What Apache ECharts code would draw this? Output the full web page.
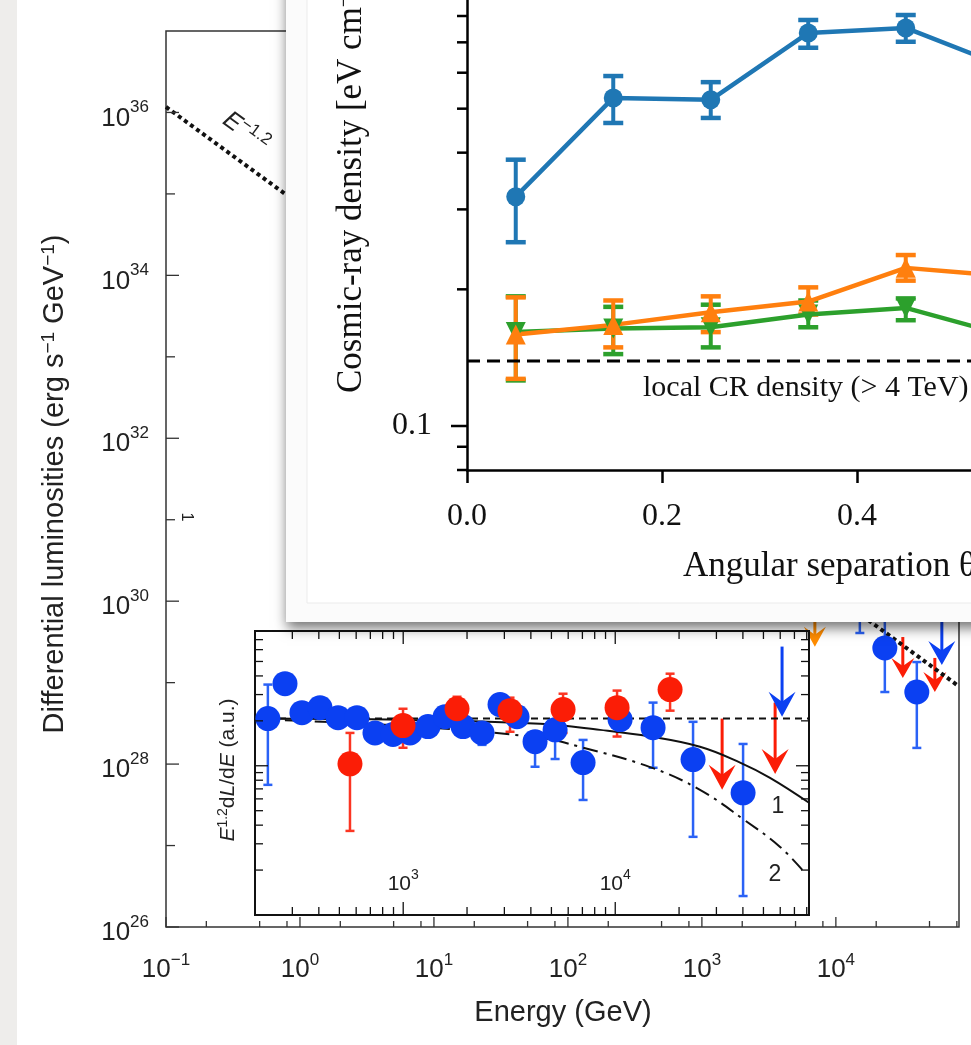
<!DOCTYPE html>
<html>
<head>
<meta charset="utf-8">
<title>Differential luminosities with cosmic-ray density panel</title>
<script src="https://cdn.jsdelivr.net/npm/echarts@6.0.0/dist/echarts.min.js"></script>
<style>
  html, body { margin: 0; padding: 0; background: #fff; }
  #chart { width: 971px; height: 1045px; }
</style>
</head>
<body>
<div id="chart"></div>
<script>
const SANS = '"Liberation Sans", Arial, Helvetica, sans-serif';
const SERIF = '"Liberation Serif", "Times New Roman", serif';

// ---- main figure (log-log) ----
const mainXRange = [0.1, 83000];
const mainYRange = [1e26, 1e37];
const mainXMajor = [0.1, 1, 10, 100, 1000, 10000];
const mainXMinor = [0.2, 0.5, 0.8, 2, 5, 8, 20, 50, 80, 200, 500, 800, 2000, 5000, 8000, 20000, 50000, 80000];
const mainYLabelled = [1e26, 1e28, 1e30, 1e32, 1e34, 1e36];
const mainYOdd = [1e27, 1e29, 1e31, 1e33, 1e35];
const slopeE = [0.1, 80000];
const slopeL = [1.17e36, 9.4e28];
const mainBlueE = [15100, 23200, 40200];
const mainBlueL = [1.0e30, 2.66e29, 7.67e28];
const mainBlueLo = [4.07e29, 7.67e28, 1.58e28];
const mainBlueHi = [1.6e30, 7.8e29, 1.79e29];
const mainBlueLimE = [61800];
const mainBlueLimFrom = [1.0e30];
const mainBlueLimTo = [1.65e29];
const mainRedLimE = [31600, 54800];
const mainRedLimFrom = [3.63e29, 2.01e29];
const mainRedLimTo = [1.14e29, 7.67e28];
const mainOrangeLimE = [6970];
const mainOrangeLimFrom = [1.0e30];
const mainOrangeLimTo = [2.75e29];

// ---- inset (E^1.2 dL/dE) ----
const insetXRange = [200, 82000];
const insetYRange = [0.1, 8];
const insetXMajor = [1000, 10000];
const insetXMinor = [300, 400, 500, 600, 700, 800, 900, 2000, 3000, 4000, 5000, 6000, 7000, 8000, 9000,
  20000, 30000, 40000, 50000, 60000, 70000, 80000];
const insetYMajor = [1];
const insetYMinor = [0.2, 0.3, 0.4, 0.5, 0.6, 0.7, 0.8, 0.9, 2, 3, 4, 5, 6, 7, 8];
const insetBlueE = [230, 277, 333, 405, 493, 605, 736, 895, 1077, 1309, 1575, 1915, 2354, 2862, 3442,
  4186, 5204, 7052, 10540, 15080, 23280, 40080];
const insetBlueV = [2.07, 3.55, 2.27, 2.45, 2.10, 2.10, 1.66, 1.62, 1.66, 1.83, 2.13, 1.83, 1.66, 2.57, 2.13,
  1.45, 1.74, 1.05, 2.04, 1.80, 1.10, 0.659];
const insetBlueLo = [0.745, null, null, null, null, null, null, null, null, null, null, null, 1.38, null, null,
  0.985, 1.11, 0.59, null, 0.97, 0.334, 0.134];
const insetBlueHi = [3.50, null, null, null, null, null, null, null, null, null, null, null, 1.95, null, null,
  1.70, 1.90, 1.49, null, 2.65, 1.97, 1.40];
const insetRedE = [561, 998, 1794, 3190, 5674, 10200, 18140];
const insetRedV = [1.03, 1.86, 2.41, 2.34, 2.38, 2.45, 3.24];
const insetRedLo = [0.366, 1.32, 1.83, 1.69, 1.66, 1.57, 2.34];
const insetRedHi = [1.66, 2.41, 2.90, 2.86, 3.04, 3.19, 4.14];
const insetRedLimE = [31920, 56760];
const insetRedLimFrom = [2.07, 2.65];
const insetRedLimTo = [0.69, 0.88];
const insetBlueLimE = [61200];
const insetBlueLimFrom = [6.29];
const insetBlueLimTo = [2.13];
const flatE = [200, 82000];
const flatV = [2.07, 2.07];
const curve1E = [200, 1000, 4420, 8480, 14600, 25100, 38800, 53700, 82000];
const curve1V = [2.07, 2.03, 1.91, 1.74, 1.57, 1.34, 1.05, 0.83, 0.565];
const curve2E = [200, 1000, 4420, 6820, 14600, 25100, 40960, 59900, 78600];
const curve2V = [2.05, 1.85, 1.54, 1.34, 0.98, 0.69, 0.43, 0.286, 0.191];

// ---- overlay panel (cosmic-ray density vs angular separation) ----
const panelX = [0.05, 0.15, 0.25, 0.35, 0.45, 0.55];
const blueY = [0.320, 0.528, 0.523, 0.734, 0.753, 0.621];
const blueLo = [0.254, 0.465, 0.477, 0.681, 0.702, 0.580];
const blueHi = [0.386, 0.590, 0.572, 0.784, 0.804, 0.670];
const orangeY = [0.159, 0.167, 0.178, 0.188, 0.223, 0.214];
const orangeLo = [0.127, 0.149, 0.161, 0.176, 0.209, 0.200];
const orangeHi = [0.192, 0.189, 0.193, 0.202, 0.238, 0.230];
const greenY = [0.161, 0.164, 0.165, 0.176, 0.182, 0.159];
const greenLo = [0.126, 0.144, 0.149, 0.165, 0.171, 0.148];
const greenHi = [0.193, 0.183, 0.185, 0.189, 0.191, 0.170];
const localCR = 0.139;
const panelYMajor = [0.1];
const panelYMinor = [0.08, 0.09, 0.2, 0.3, 0.4, 0.5, 0.6, 0.7, 0.8, 0.9];

const zip = (...arrs) => arrs[0].map((_, i) => arrs.map(a => a[i]));
const withErr = rows => rows.filter(r => r[1] != null && r[2] != null);

function pow10(v) {
  const l = Math.log10(v), e = Math.round(l);
  if (Math.abs(l - e) > 1e-6) return '';
  return '{b|10}{s|' + (e < 0 ? '\u2212' + (-e) : e) + '}';
}

// tick rows: [x, y, side(0 bottom,1 top,2 left,3 right), length (+ in / - out)]
const xTicks = (vals, yRef, side, len) => vals.map(v => [v, yRef, side, len]);
const yTicks = (vals, xRef, side, len) => vals.map(v => [xRef, v, side, len]);

function tickRenderer(color, width) {
  return function (params, api) {
    const cs = params.coordSys;
    const p = api.coord([api.value(0), api.value(1)]);
    const side = api.value(2), len = api.value(3);
    let s;
    if (side === 0) s = { x1: p[0], y1: cs.y + cs.height, x2: p[0], y2: cs.y + cs.height - len };
    else if (side === 1) s = { x1: p[0], y1: cs.y, x2: p[0], y2: cs.y + len };
    else if (side === 2) s = { x1: cs.x, y1: p[1], x2: cs.x + len, y2: p[1] };
    else s = { x1: cs.x + cs.width, y1: p[1], x2: cs.x + cs.width - len, y2: p[1] };
    return { type: 'line', shape: s, style: { stroke: color, lineWidth: width } };
  };
}

function errRenderer(color, width, cap, capWidth) {
  return function (params, api) {
    const a = api.coord([api.value(0), api.value(1)]);
    const b = api.coord([api.value(0), api.value(2)]);
    const st = { stroke: color, lineWidth: width };
    const cst = { stroke: color, lineWidth: capWidth };
    return {
      type: 'group', children: [
        { type: 'line', shape: { x1: a[0], y1: a[1], x2: b[0], y2: b[1] }, style: st },
        { type: 'line', shape: { x1: a[0] - cap / 2, y1: a[1], x2: a[0] + cap / 2, y2: a[1] }, style: cst },
        { type: 'line', shape: { x1: b[0] - cap / 2, y1: b[1], x2: b[0] + cap / 2, y2: b[1] }, style: cst }
      ]
    };
  };
}

// upper limit arrows: [x, from, to]
function arrowRenderer(color, width, headW, headH) {
  return function (params, api) {
    const a = api.coord([api.value(0), api.value(1)]);
    const b = api.coord([api.value(0), api.value(2)]);
    return {
      type: 'group', children: [
        { type: 'line', shape: { x1: a[0], y1: a[1], x2: b[0], y2: b[1] - headH * 0.5 }, style: { stroke: color, lineWidth: width } },
        {
          type: 'polygon',
          shape: { points: [[b[0], b[1]], [b[0] - headW / 2, b[1] - headH], [b[0], b[1] - headH * 0.6], [b[0] + headW / 2, b[1] - headH]] },
          style: { fill: color }
        }
      ]
    };
  };
}

const C = {
  blue: '#0b40f2', blueBar: '#2a62f6', red: '#fb1d06', redBar: '#fb3522', orange: '#ff8c00',
  tabBlue: '#1f77b4', tabOrange: '#ff7f0e', tabGreen: '#2ca02c'
};

const supRich = (size, sup, pb, pt) => ({
  b: { fontFamily: SANS, fontSize: size, color: '#222', padding: [pt, 0, 0, 0] },
  s: { fontFamily: SANS, fontSize: sup, color: '#222', padding: [0, 0, pb, 0] }
});

const mainTicks = [].concat(
  xTicks(mainXMajor, mainYRange[0], 0, 10),
  xTicks(mainXMinor, mainYRange[0], 0, 6),
  yTicks(mainYLabelled, mainXRange[0], 2, 13),
  yTicks(mainYOdd, mainXRange[0], 2, 9)
);
const insetTicks = [].concat(
  xTicks(insetXMajor, insetYRange[0], 0, 13), xTicks(insetXMajor, insetYRange[0], 1, 13),
  xTicks(insetXMinor, insetYRange[0], 0, 8), xTicks(insetXMinor, insetYRange[0], 1, 8),
  yTicks(insetYMajor, insetXRange[0], 2, 13), yTicks(insetYMajor, insetXRange[0], 3, 13),
  yTicks(insetYMinor, insetXRange[0], 2, 8), yTicks(insetYMinor, insetXRange[0], 3, 8)
);
const panelTicks = [].concat(
  yTicks(panelYMajor, 0, 2, -16),
  yTicks(panelYMinor, 0, 2, -10)
);

const chart = echarts.init(document.getElementById('chart'));

chart.setOption({
  animation: false,
  backgroundColor: '#fff',
  grid: [
    { left: 166, top: 31, width: 793, height: 896, show: true, borderColor: '#333', borderWidth: 1.5,
      backgroundColor: 'transparent', containLabel: false, outerBoundsMode: 'none', z: 1 },
    { left: 255, top: 631, width: 554, height: 284, show: true, borderColor: '#111', borderWidth: 2,
      backgroundColor: '#fff', containLabel: false, outerBoundsMode: 'none', z: 5 },
    { left: 467, top: -28, width: 585, height: 498, show: false, containLabel: false, outerBoundsMode: 'none' }
  ],
  xAxis: [
    {
      type: 'log', gridIndex: 0, min: mainXRange[0], max: mainXRange[1], z: 3,
      axisLine: { show: false }, axisTick: { show: false }, splitLine: { show: false },
      axisLabel: { formatter: pow10, margin: 20, rich: supRich(26, 17, 10, 10) }
    },
    {
      type: 'log', gridIndex: 1, min: insetXRange[0], max: insetXRange[1], z: 8,
      axisLine: { show: false }, axisTick: { show: false }, splitLine: { show: false },
      axisLabel: { inside: true, formatter: pow10, margin: 20, rich: supRich(21, 14, 10, 8) }
    },
    {
      type: 'value', gridIndex: 2, min: 0, max: 0.6, interval: 0.2, z: 23,
      axisLine: { lineStyle: { color: '#000', width: 2.5 } },
      axisTick: { inside: false, length: 13, lineStyle: { color: '#000', width: 2.5 } },
      splitLine: { show: false },
      axisLabel: { fontFamily: SERIF, fontSize: 32, color: '#111', margin: 31, formatter: v => v.toFixed(1) }
    }
  ],
  yAxis: [
    {
      type: 'log', gridIndex: 0, min: mainYRange[0], max: mainYRange[1], interval: 2, z: 3,
      axisLine: { show: false }, axisTick: { show: false }, splitLine: { show: false },
      axisLabel: { customValues: mainYLabelled, formatter: pow10, margin: 17, rich: supRich(26, 17, 10, 12) }
    },
    {
      type: 'log', gridIndex: 1, min: insetYRange[0], max: insetYRange[1], z: 8,
      axisLine: { show: false }, axisTick: { show: false }, splitLine: { show: false }, axisLabel: { show: false }
    },
    {
      type: 'log', gridIndex: 2, min: 0.08, max: 1, z: 23,
      axisLine: { lineStyle: { color: '#000', width: 2.5 } },
      axisTick: { show: false }, splitLine: { show: false },
      axisLabel: {
        fontFamily: SERIF, fontSize: 32, color: '#111', margin: 35,
        formatter: v => (Math.abs(v - 0.1) < 1e-9 ? '0.1' : '')
      }
    }
  ],
  series: [
    // main figure
    { type: 'custom', xAxisIndex: 0, yAxisIndex: 0, renderItem: tickRenderer('#333', 1.3), data: mainTicks, encode: { x: 0, y: 1 }, z: 3, silent: true },
    { type: 'line', xAxisIndex: 0, yAxisIndex: 0, data: zip(slopeE, slopeL), symbol: 'none',
      lineStyle: { color: '#111', width: 4, type: [4, 3.5] }, z: 2 },
    { type: 'custom', xAxisIndex: 0, yAxisIndex: 0, renderItem: errRenderer(C.blueBar, 2.5, 9, 2.5),
      data: withErr(zip(mainBlueE, mainBlueLo, mainBlueHi)), encode: { x: 0, y: [1, 2] }, z: 2 },
    { type: 'scatter', xAxisIndex: 0, yAxisIndex: 0, data: zip(mainBlueE, mainBlueL), symbolSize: 25,
      itemStyle: { color: C.blue, opacity: 1 }, z: 2 },
    { type: 'custom', xAxisIndex: 0, yAxisIndex: 0, renderItem: arrowRenderer(C.red, 3, 23, 20),
      data: zip(mainRedLimE, mainRedLimFrom, mainRedLimTo), encode: { x: 0, y: [1, 2] }, z: 2 },
    { type: 'custom', xAxisIndex: 0, yAxisIndex: 0, renderItem: arrowRenderer(C.orange, 3, 22, 20),
      data: zip(mainOrangeLimE, mainOrangeLimFrom, mainOrangeLimTo), encode: { x: 0, y: [1, 2] }, z: 2 },
    { type: 'custom', xAxisIndex: 0, yAxisIndex: 0, renderItem: arrowRenderer(C.blue, 3, 27, 24),
      data: zip(mainBlueLimE, mainBlueLimFrom, mainBlueLimTo), encode: { x: 0, y: [1, 2] }, z: 2 },

    // inset
    { type: 'custom', xAxisIndex: 1, yAxisIndex: 1, renderItem: errRenderer(C.blueBar, 2.5, 9, 2.5),
      data: withErr(zip(insetBlueE, insetBlueLo, insetBlueHi)), encode: { x: 0, y: [1, 2] }, z: 7 },
    { type: 'scatter', xAxisIndex: 1, yAxisIndex: 1, data: zip(insetBlueE, insetBlueV), symbolSize: 25,
      itemStyle: { color: C.blue, opacity: 1 }, z: 7 },
    { type: 'custom', xAxisIndex: 1, yAxisIndex: 1, renderItem: errRenderer(C.redBar, 2.5, 9, 2.5),
      data: withErr(zip(insetRedE, insetRedLo, insetRedHi)), encode: { x: 0, y: [1, 2] }, z: 7 },
    { type: 'scatter', xAxisIndex: 1, yAxisIndex: 1, data: zip(insetRedE, insetRedV), symbolSize: 25,
      itemStyle: { color: C.red, opacity: 1 }, z: 7 },
    { type: 'custom', xAxisIndex: 1, yAxisIndex: 1, renderItem: arrowRenderer(C.red, 3, 27, 25),
      data: zip(insetRedLimE, insetRedLimFrom, insetRedLimTo), encode: { x: 0, y: [1, 2] }, z: 7 },
    { type: 'custom', xAxisIndex: 1, yAxisIndex: 1, renderItem: arrowRenderer(C.blue, 3, 27, 25),
      data: zip(insetBlueLimE, insetBlueLimFrom, insetBlueLimTo), encode: { x: 0, y: [1, 2] }, z: 7 },
    { type: 'line', xAxisIndex: 1, yAxisIndex: 1, data: zip(flatE, flatV), symbol: 'none',
      lineStyle: { color: '#111', width: 2, type: [7, 5] }, z: 7 },
    { type: 'line', xAxisIndex: 1, yAxisIndex: 1, data: zip(curve1E, curve1V), symbol: 'none', smooth: 0.4,
      lineStyle: { color: '#111', width: 2 }, z: 7 },
    { type: 'line', xAxisIndex: 1, yAxisIndex: 1, data: zip(curve2E, curve2V), symbol: 'none', smooth: 0.4,
      lineStyle: { color: '#111', width: 2, type: [15, 6, 3, 6] }, z: 7 },
    { type: 'custom', xAxisIndex: 1, yAxisIndex: 1, renderItem: tickRenderer('#111', 1.3), data: insetTicks, encode: { x: 0, y: 1 }, z: 8, silent: true },

    // overlay panel
    { type: 'custom', xAxisIndex: 2, yAxisIndex: 2, renderItem: tickRenderer('#000', 2.5), data: panelTicks, encode: { x: 0, y: 1 }, z: 23, silent: true },
    { type: 'line', xAxisIndex: 2, yAxisIndex: 2, data: zip([0, 0.6], [localCR, localCR]), symbol: 'none',
      lineStyle: { color: '#000', width: 3, type: [13, 7] }, z: 22 },
    { type: 'custom', xAxisIndex: 2, yAxisIndex: 2, renderItem: errRenderer(C.tabBlue, 4, 20, 4.5),
      data: zip(panelX, blueLo, blueHi), encode: { x: 0, y: [1, 2] }, z: 22 },
    { type: 'line', xAxisIndex: 2, yAxisIndex: 2, data: zip(panelX, blueY), symbol: 'circle', symbolSize: 19,
      lineStyle: { color: C.tabBlue, width: 4.5 }, itemStyle: { color: C.tabBlue }, z: 22 },
    { type: 'custom', xAxisIndex: 2, yAxisIndex: 2, renderItem: errRenderer(C.tabGreen, 4, 20, 4.5),
      data: zip(panelX, greenLo, greenHi), encode: { x: 0, y: [1, 2] }, z: 22 },
    { type: 'line', xAxisIndex: 2, yAxisIndex: 2, data: zip(panelX, greenY), symbol: 'triangle', symbolRotate: 180, symbolSize: 20,
      lineStyle: { color: C.tabGreen, width: 4.5 }, itemStyle: { color: C.tabGreen }, z: 22 },
    { type: 'custom', xAxisIndex: 2, yAxisIndex: 2, renderItem: errRenderer(C.tabOrange, 4, 20, 4.5),
      data: zip(panelX, orangeLo, orangeHi), encode: { x: 0, y: [1, 2] }, z: 22 },
    { type: 'line', xAxisIndex: 2, yAxisIndex: 2, data: zip(panelX, orangeY), symbol: 'triangle', symbolSize: 20,
      lineStyle: { color: C.tabOrange, width: 4.5 }, itemStyle: { color: C.tabOrange }, z: 22 }
  ],
  graphic: {
    elements: [
      { type: 'rect', z: 0, silent: true, shape: { x: 0, y: 0, width: 17, height: 1045 }, style: { fill: '#eeedeb' } },
      // main figure texts
      { type: 'text', z: 3, x: 55, y: 484, rotation: Math.PI / 2,
        style: { text: 'Differential luminosities (erg s{s|\u22121} GeV{s|\u22121})', fontFamily: SANS, fontSize: 29, fill: '#222',
          align: 'center', verticalAlign: 'middle',
          rich: { s: { fontFamily: SANS, fontSize: 19, fill: '#222', padding: [0, 0, 12, 0] } } } },
      { type: 'text', z: 3, x: 563, y: 1013,
        style: { text: 'Energy (GeV)', fontFamily: SANS, fontSize: 29, fill: '#222', align: 'center', verticalAlign: 'middle' } },
      { type: 'text', z: 3, x: 246, y: 132, rotation: -0.63,
        style: { text: '{i|E}{s|\u22121.2}', align: 'center', verticalAlign: 'middle',
          rich: { i: { fontFamily: SANS, fontStyle: 'italic', fontSize: 25, fill: '#222' },
                  s: { fontFamily: SANS, fontSize: 17, fill: '#222', padding: [0, 0, 12, 0] } } } },
      { type: 'text', z: 3, x: 186, y: 517, rotation: -Math.PI / 2,
        style: { text: '1', fontFamily: SANS, fontSize: 16, fill: '#222', align: 'center', verticalAlign: 'middle' } },
      // inset texts
      { type: 'text', z: 9, x: 228, y: 770, rotation: Math.PI / 2,
        style: { text: '{i|E}{s|1.2}d{i|L}/d{i|E} (a.u.)', fontFamily: SANS, fontSize: 21, fill: '#222',
          align: 'center', verticalAlign: 'middle',
          rich: { i: { fontFamily: SANS, fontStyle: 'italic', fontSize: 21, fill: '#222' },
                  s: { fontFamily: SANS, fontSize: 14, fill: '#222', padding: [0, 0, 10, 0] } } } },
      { type: 'text', z: 9, x: 778, y: 807,
        style: { text: '1', fontFamily: SANS, fontSize: 23, fill: '#222', align: 'center', verticalAlign: 'middle' } },
      { type: 'text', z: 9, x: 775, y: 875,
        style: { text: '2', fontFamily: SANS, fontSize: 23, fill: '#222', align: 'center', verticalAlign: 'middle' } },
      // overlay panel card
      { type: 'rect', z: 20, silent: true, shape: { x: 286, y: -30, width: 720, height: 652 },
        style: { fill: '#fbfbfb', shadowBlur: 12, shadowOffsetX: 1, shadowOffsetY: 6, shadowColor: 'rgba(0,0,0,0.55)' } },
      { type: 'rect', z: 20, silent: true, shape: { x: 307, y: -30, width: 700, height: 633 },
        style: { fill: '#fff', stroke: '#ebebeb', lineWidth: 1 } },
      { type: 'text', z: 24, x: 352, y: 393, rotation: Math.PI / 2,
        style: { text: 'Cosmic-ray density [eV cm{s|\u22123}]', fontFamily: SERIF, fontSize: 35, fill: '#111',
          align: 'left', verticalAlign: 'middle',
          rich: { s: { fontFamily: SERIF, fontSize: 23, fill: '#111', padding: [0, 0, 14, 0] } } } },
      { type: 'text', z: 24, x: 643, y: 388,
        style: { text: 'local CR density (> 4 TeV)', fontFamily: SERIF, fontSize: 30, fill: '#111', align: 'left', verticalAlign: 'middle' } },
      { type: 'text', z: 24, x: 683, y: 567,
        style: { text: 'Angular separation \u03b8 [deg]', fontFamily: SERIF, fontSize: 35, fill: '#111', align: 'left', verticalAlign: 'middle' } }
    ]
  }
});
</script>
</body>
</html>
